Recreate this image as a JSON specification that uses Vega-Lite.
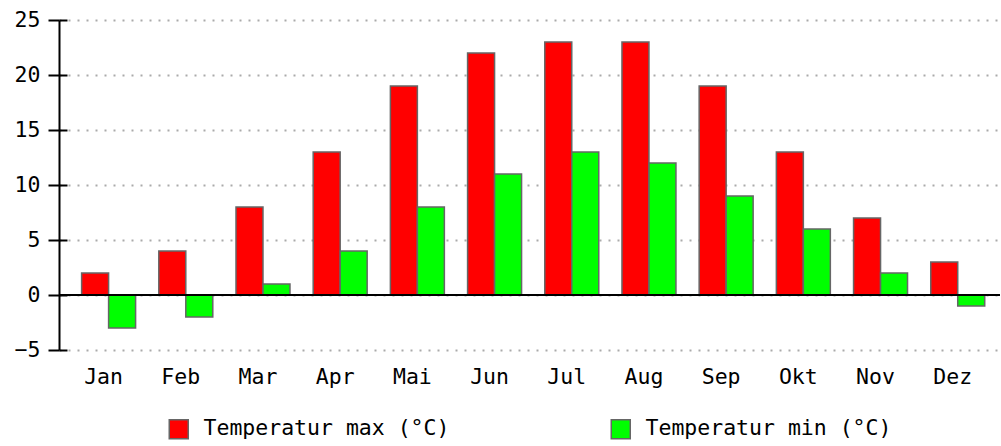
{
  "$schema": "https://vega.github.io/schema/vega-lite/v6.json",
  "width": 941,
  "height": 330,
  "padding": {"left": 59, "top": 20, "right": 1, "bottom": 96},
  "autosize": {"type": "none"},
  "background": "white",
  "config": {
    "font": "DejaVu Sans Mono",
    "view": {"stroke": null}
  },
  "data": {
    "values": [
      {"Monat": "Jan", "Serie": "Temperatur max (°C)", "Wert": 2},
      {"Monat": "Jan", "Serie": "Temperatur min (°C)", "Wert": -3},
      {"Monat": "Feb", "Serie": "Temperatur max (°C)", "Wert": 4},
      {"Monat": "Feb", "Serie": "Temperatur min (°C)", "Wert": -2},
      {"Monat": "Mar", "Serie": "Temperatur max (°C)", "Wert": 8},
      {"Monat": "Mar", "Serie": "Temperatur min (°C)", "Wert": 1},
      {"Monat": "Apr", "Serie": "Temperatur max (°C)", "Wert": 13},
      {"Monat": "Apr", "Serie": "Temperatur min (°C)", "Wert": 4},
      {"Monat": "Mai", "Serie": "Temperatur max (°C)", "Wert": 19},
      {"Monat": "Mai", "Serie": "Temperatur min (°C)", "Wert": 8},
      {"Monat": "Jun", "Serie": "Temperatur max (°C)", "Wert": 22},
      {"Monat": "Jun", "Serie": "Temperatur min (°C)", "Wert": 11},
      {"Monat": "Jul", "Serie": "Temperatur max (°C)", "Wert": 23},
      {"Monat": "Jul", "Serie": "Temperatur min (°C)", "Wert": 13},
      {"Monat": "Aug", "Serie": "Temperatur max (°C)", "Wert": 23},
      {"Monat": "Aug", "Serie": "Temperatur min (°C)", "Wert": 12},
      {"Monat": "Sep", "Serie": "Temperatur max (°C)", "Wert": 19},
      {"Monat": "Sep", "Serie": "Temperatur min (°C)", "Wert": 9},
      {"Monat": "Okt", "Serie": "Temperatur max (°C)", "Wert": 13},
      {"Monat": "Okt", "Serie": "Temperatur min (°C)", "Wert": 6},
      {"Monat": "Nov", "Serie": "Temperatur max (°C)", "Wert": 7},
      {"Monat": "Nov", "Serie": "Temperatur min (°C)", "Wert": 2},
      {"Monat": "Dez", "Serie": "Temperatur max (°C)", "Wert": 3},
      {"Monat": "Dez", "Serie": "Temperatur min (°C)", "Wert": -1}
    ]
  },
  "layer": [
    {
      "mark": {"type": "bar", "stroke": "#666666", "strokeWidth": 1.5},
      "encoding": {
        "x": {
          "field": "Monat",
          "type": "nominal",
          "sort": null,
          "scale": {"paddingInner": 0, "paddingOuter": 0.095, "align": 0.75},
          "axis": {
            "title": null,
            "domain": false,
            "ticks": false,
            "labelPadding": 16,
            "labelFontSize": 21.5,
            "labelColor": "black",
            "labelAngle": 0,
            "labelOffset": -5
          }
        },
        "xOffset": {
          "field": "Serie",
          "type": "nominal",
          "sort": ["Temperatur max (°C)", "Temperatur min (°C)"],
          "scale": {"paddingOuter": 0.43, "paddingInner": 0}
        },
        "y": {
          "field": "Wert",
          "type": "quantitative",
          "scale": {"domain": [-5, 25], "nice": false, "zero": false},
          "axis": {
            "orient": "left",
            "title": null,
            "values": [-5, 0, 5, 10, 15, 20, 25],
            "domainColor": "black",
            "domainWidth": 2,
            "tickColor": "black",
            "tickWidth": 2,
            "tickSize": 11,
            "labelPadding": 8,
            "labelFontSize": 21.5,
            "labelColor": "black",
            "grid": true,
            "gridColor": "#aaaaaa",
            "gridWidth": 2,
            "gridDash": [2, 7]
          }
        },
        "color": {
          "field": "Serie",
          "type": "nominal",
          "scale": {
            "domain": ["Temperatur max (°C)", "Temperatur min (°C)"],
            "range": ["#ff0000", "#00ff00"]
          },
          "legend": {
            "title": null,
            "orient": "none",
            "direction": "horizontal",
            "legendX": 109,
            "legendY": 398,
            "padding": 0,
            "symbolType": "square",
            "symbolSize": 361,
            "symbolStrokeColor": "#666666",
            "symbolStrokeWidth": 1.5,
            "symbolOpacity": 1,
            "labelFontSize": 21.5,
            "labelColor": "black",
            "labelOffset": 14,
            "columnPadding": 158,
            "labelLimit": 400
          }
        }
      }
    },
    {
      "mark": {"type": "rule", "color": "black", "strokeWidth": 2},
      "encoding": {
        "y": {
          "datum": 0,
          "type": "quantitative",
          "axis": {
            "orient": "left",
            "offset": -8,
            "values": [-5, 0, 5, 10, 15, 20, 25],
            "domain": false,
            "labels": false,
            "grid": false,
            "title": null,
            "tickColor": "black",
            "tickWidth": 2,
            "tickSize": 8
          }
        }
      }
    }
  ],
  "resolve": {"axis": {"y": "independent"}}
}
